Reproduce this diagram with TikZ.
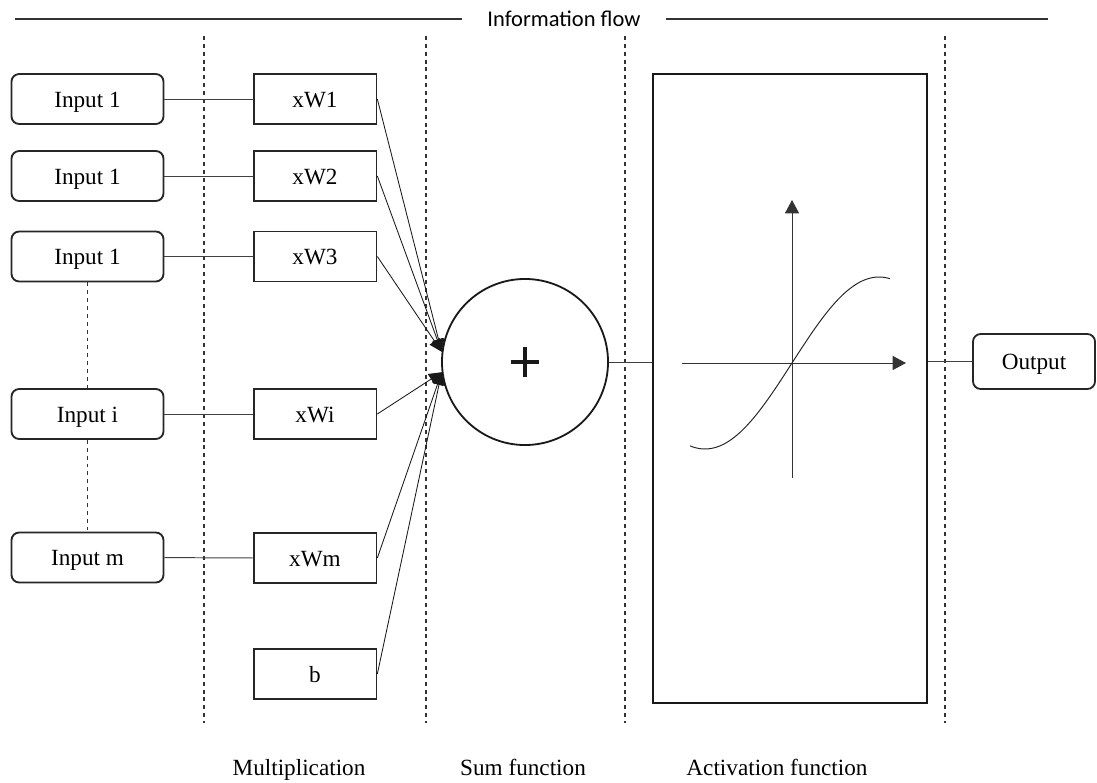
\documentclass[tikz,border=0pt]{standalone}
\usepackage{fontspec}
\setmainfont{Liberation Serif}
\newfontfamily\flowfont{Carlito}
\usetikzlibrary{calc, arrows.meta}

\begin{document}
\begin{tikzpicture}[x=0.025cm, y=-0.025cm,
    font=\fontsize{16.5}{19}\selectfont,
    inbox/.style={draw=black!85, line width=1.3pt, rounded corners=5.5pt,
        minimum width=3.8cm, minimum height=1.25cm, inner sep=0pt,
        text height=11.5pt, text depth=0pt},
    wbox/.style={draw=black!85, line width=1.3pt,
        minimum width=3.07cm, minimum height=1.25cm, inner sep=0pt,
        text height=11.5pt, text depth=0pt},
    link/.style={black!75, line width=0.7pt},
    divider/.style={black!80, line width=0.8pt, dash pattern=on 2.8pt off 2.8pt},
    feed/.style={black!90, line width=0.6pt, -{Triangle[length=9pt,width=8.5pt]}},
    axis/.style={black!80, line width=0.7pt, -{Triangle[length=9.5pt,width=10pt]}}]
    \useasboundingbox (0,0) rectangle (1097,782);

    % title line
    \node[font=\flowfont\fontsize{16}{19}\selectfont, inner xsep=18pt] (flow) at (564,19) {Information flow};
    \draw[black!80, line width=0.8pt] (15,19) -- (flow.west);
    \draw[black!80, line width=0.8pt] (flow.east) -- (1048,19);

    % stage dividers
    \foreach \x in {204, 426, 625, 945}
        \draw[divider] (\x,36) -- (\x,723);

    % inputs
    \node[inbox] (in1) at (87.5,99) {Input 1};
    \node[inbox] (in2) at (87.5,176) {Input 1};
    \node[inbox] (in3) at (87.5,256.5) {Input 1};
    \node[inbox] (ini) at (87.5,414) {Input i};
    \node[inbox] (inm) at (87.5,557.5) {Input m};

    % weights
    \node[wbox] (w1) at (315,99) {xW1};
    \node[wbox] (w2) at (315,176) {xW2};
    \node[wbox] (w3) at (315,256.5) {xW3};
    \node[wbox] (wi) at (315,414) {xWi};
    \node[wbox] (wm) at (315,558) {xWm};
    \node[wbox] (wb) at (315,674) {b};

    % sum and activation
    \node[draw=black!90, circle, line width=1.3pt, minimum size=4.15cm, inner sep=0pt] (sum) at (525,362) {};
    \draw[black!90, line width=2.2pt] ($(sum)+(-14,0)$) -- ($(sum)+(14,0)$);
    \draw[black!90, line width=2.2pt] ($(sum)+(0,-15)$) -- ($(sum)+(0,15)$);
    \node[draw=black!90, line width=1.5pt, minimum width=6.85cm, minimum height=15.72cm] (act) at (790,388.5) {};
    \node[inbox, minimum width=3.05cm, minimum height=1.375cm] (out) at (1034,361.5) {Output};

    % connections
    \foreach \a/\b in {in1/w1, in2/w2, in3/w3, ini/wi, inm/wm}
        \draw[link] (\a) -- (\b);
    \draw[divider] (in3) -- (ini);
    \draw[divider] (ini) -- (inm);
    \foreach \w in {w1, w2, w3}
        \draw[feed] (\w.east) -- (sum.173);
    \foreach \w in {wi, wm, wb}
        \draw[feed] (\w.east) -- (sum.187);
    \draw[link] (sum.east) -- (sum.east -| act.west);
    \draw[link] (out.west -| act.east) -- (out.west);

    % activation curve
    \draw[axis] (792,478) -- (792,200);
    \draw[axis] (682,363) -- (906,363);
    \draw[black!85, line width=0.7pt] plot[domain=-102:98, samples=60, smooth] ({792+\x}, {363-86*sin(\x*90/87)});

    % stage labels
    \node[anchor=base] (mul) at (299,775) {Multiplication};
    \node[anchor=base] (sumlbl) at (523,775) {Sum function};
    \node[anchor=base] (actlbl) at (777,775) {Activation function};
\end{tikzpicture}
\end{document}
